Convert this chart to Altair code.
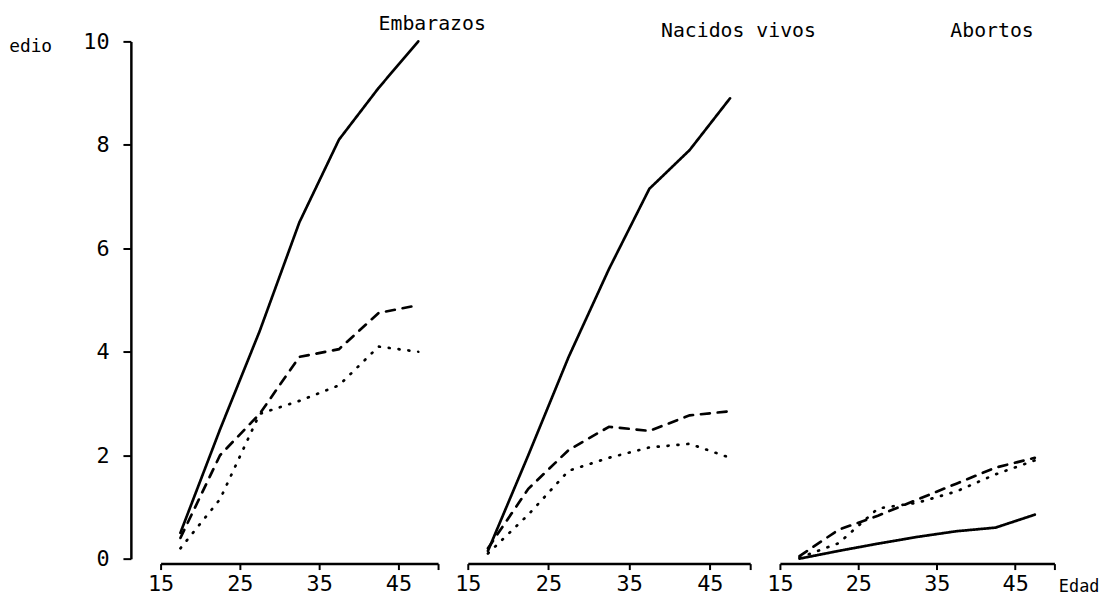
import altair as alt
import pandas as pd

# --- data ---
edades = [17.5, 22.5, 27.5, 32.5, 37.5, 42.5, 47.5]
paneles = ["Embarazos", "Nacidos vivos", "Abortos"]
series = ["continua", "discontinua", "punteada"]

emb_continua = [0.5, 2.5, 4.4, 6.5, 8.1, 9.1, 10.0]
emb_discontinua = [0.4, 2.0, 2.8, 3.9, 4.05, 4.75, 4.9]
emb_punteada = [0.2, 1.15, 2.8, 3.05, 3.35, 4.1, 4.0]

nac_continua = [0.15, 2.0, 3.9, 5.6, 7.15, 7.9, 8.9]
nac_discontinua = [0.2, 1.35, 2.1, 2.55, 2.47, 2.77, 2.85]
nac_punteada = [0.1, 0.85, 1.7, 1.95, 2.15, 2.22, 1.95]

abo_continua = [0.0, 0.15, 0.29, 0.42, 0.53, 0.6, 0.85]
abo_discontinua = [0.05, 0.56, 0.83, 1.14, 1.45, 1.76, 1.95]
abo_punteada = [0.02, 0.3, 0.97, 1.08, 1.3, 1.63, 1.9]

y_ticks = [0, 2, 4, 6, 8, 10]
x_ticks = [15, 25, 35, 45, 50]

valores = {
    "Embarazos": [emb_continua, emb_discontinua, emb_punteada],
    "Nacidos vivos": [nac_continua, nac_discontinua, nac_punteada],
    "Abortos": [abo_continua, abo_discontinua, abo_punteada],
}

rows = []
for p in paneles:
    for s, vals in zip(series, valores[p]):
        for e, v in zip(edades, vals):
            rows.append({"panel": p, "serie": s, "edad": e, "valor": v})
df = pd.DataFrame(rows)

FONT = "DejaVu Sans Mono"
panel_w = [280, 285, 277]
title_dx = [220, 195, 172]
title_offset = [-14, -10, -10]

def make_panel(i, name):
    d = df[df.panel == name]
    if i == 0:
        yax = alt.Axis(values=y_ticks, offset=30, tickSize=8, labelPadding=14,
                       grid=False, domainColor="black", domainWidth=2.5,
                       tickColor="black", tickWidth=2, labelColor="black",
                       labelFont=FONT, labelFontSize=22,
                       title="edio", titleAngle=0, titleAlign="right",
                       titleBaseline="middle", titleX=-80, titleY=5,
                       titleFont=FONT, titleFontSize=18, titleFontWeight="normal",
                       titleColor="black")
    else:
        yax = None
    xkw = dict(values=x_ticks, labelExpr="datum.value == 50 ? '' : datum.label",
               offset=5, tickSize=6, labelPadding=4, grid=False, labelFlush=False,
               domainColor="black", domainWidth=2.5, tickColor="black", tickWidth=2,
               labelColor="black", labelFont=FONT, labelFontSize=22)
    if i == 2:
        xkw.update(title="Edad", titleX=panel_w[i] + 4, titleY=23, titleAlign="left",
                   titleBaseline="middle", titleFont=FONT, titleFontSize=17,
                   titleFontWeight="normal", titleColor="black")
    else:
        xkw.update(title=None)
    xax = alt.Axis(**xkw)
    return alt.Chart(d).mark_line(color="black", strokeWidth=2.7, strokeCap="round").encode(
        x=alt.X("edad:Q", scale=alt.Scale(domain=[15, 50], nice=False, zero=False), axis=xax),
        y=alt.Y("valor:Q", scale=alt.Scale(domain=[0, 10], nice=False), axis=yax),
        strokeDash=alt.StrokeDash("serie:N", scale=alt.Scale(domain=series, range=[[1, 0], [9, 8], [1, 9]]), legend=None),
        order="edad:Q",
    ).properties(
        width=panel_w[i], height=522,
        title=alt.TitleParams(text=name, anchor="start", frame="group", dx=title_dx[i],
                              font=FONT, fontSize=20, fontWeight="normal", color="black",
                              baseline="middle", offset=title_offset[i]),
    )

chart = alt.hconcat(*[make_panel(i, p) for i, p in enumerate(paneles)], spacing=30, bounds="flush").properties(
    padding={"left": 0, "top": 4, "right": 0, "bottom": 0}
).configure_view(stroke=None)

chart.save("out.html", embed_options={"renderer": "svg", "actions": False})
